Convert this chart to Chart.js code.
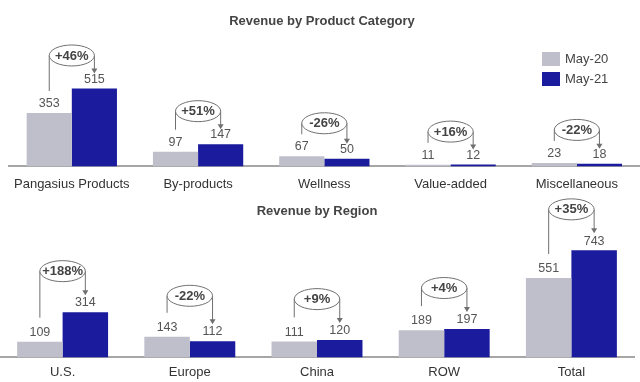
<!DOCTYPE html>
<html><head><meta charset="utf-8">
<script src="https://cdn.jsdelivr.net/npm/chart.js@4"></script>
<style>
html,body{margin:0;padding:0;background:#fff;width:640px;height:382px;overflow:hidden;position:relative;}
#c1{position:absolute;left:4px;top:0;}
#c2{position:absolute;left:-1px;top:190px;}
</style></head><body>
<canvas id="c1" width="636" height="203"></canvas>
<canvas id="c2" width="636" height="200"></canvas>
<script>
const seriesNames = ['May-20', 'May-21'];
const productCategories = ['Pangasius Products', 'By-products', 'Wellness', 'Value-added', 'Miscellaneous'];
const productMay20 = [353, 97, 67, 11, 23];
const productMay21 = [515, 147, 50, 12, 18];
const productChange = ['+46%', '+51%', '-26%', '+16%', '-22%'];
const regionCategories = ['U.S.', 'Europe', 'China', 'ROW', 'Total'];
const regionMay20 = [109, 143, 111, 189, 551];
const regionMay21 = [314, 112, 120, 197, 743];
const regionChange = ['+188%', '-22%', '+9%', '+4%', '+35%'];

const FONT = "'Liberation Sans', Arial, sans-serif";
const GREY = '#BFBFCC';
const BLUE = '#1B1B9E';

function annotPlugin(changes, lift, leftGap, rightGap) {
  return {
    id: 'annot',
    afterDatasetsDraw(chart) {
      const ctx = chart.ctx;
      const m0 = chart.getDatasetMeta(0), m1 = chart.getDatasetMeta(1);
      ctx.save();
      m0.data.forEach((g, i) => {
        const b = m1.data[i];
        ctx.font = '12.5px ' + FONT;
        ctx.fillStyle = '#555';
        ctx.textAlign = 'center';
        ctx.textBaseline = 'bottom';
        ctx.fillText(String(chart.data.datasets[0].data[i]), g.x, g.y - 3);
        ctx.fillText(String(chart.data.datasets[1].data[i]), b.x, b.y - 3);
        const top = Math.min(g.y, b.y);
        const ey = top - lift;
        const cx = (g.x + b.x) / 2, rx = (b.x - g.x) / 2, ry = 10.5;
        ctx.strokeStyle = '#707070';
        ctx.lineWidth = 1;
        ctx.beginPath(); ctx.moveTo(g.x, ey); ctx.lineTo(g.x, g.y - leftGap); ctx.stroke();
        const tip = b.y - rightGap;
        ctx.beginPath(); ctx.moveTo(b.x, ey); ctx.lineTo(b.x, tip - 4); ctx.stroke();
        ctx.fillStyle = '#707070';
        ctx.beginPath(); ctx.moveTo(b.x - 3, tip - 5); ctx.lineTo(b.x + 3, tip - 5); ctx.lineTo(b.x, tip); ctx.closePath(); ctx.fill();
        ctx.beginPath(); ctx.ellipse(cx, ey, rx, ry, 0, 0, Math.PI * 2);
        ctx.fillStyle = '#fff'; ctx.fill(); ctx.stroke();
        ctx.font = 'bold 13px ' + FONT;
        ctx.fillStyle = '#444';
        ctx.textBaseline = 'middle';
        ctx.fillText(changes[i], cx, ey + 0.5);
      });
      ctx.restore();
    }
  };
}

const legendPlugin = {
  id: 'boxLegend',
  afterDraw(chart) {
    const ctx = chart.ctx, ca = chart.chartArea;
    ctx.save();
    chart.data.datasets.forEach((ds, i) => {
      const x = ca.right - 98, y = 52 + i * 20;
      ctx.fillStyle = ds.backgroundColor;
      ctx.fillRect(x, y, 18, 14);
      ctx.fillStyle = '#444';
      ctx.font = '13px ' + FONT;
      ctx.textAlign = 'left';
      ctx.textBaseline = 'middle';
      ctx.fillText(ds.label, x + 23, y + 7.5);
    });
    ctx.restore();
  }
};

function makeChart(id, title, cats, a, b, changes, yMax, tickPad, padBottom, plugins) {
  return new Chart(document.getElementById(id), {
    type: 'bar',
    data: {
      labels: cats,
      datasets: [
        { label: seriesNames[0], data: a, backgroundColor: GREY, borderWidth: 0, categoryPercentage: 0.715, barPercentage: 1 },
        { label: seriesNames[1], data: b, backgroundColor: BLUE, borderWidth: 0, categoryPercentage: 0.715, barPercentage: 1 }
      ]
    },
    options: {
      responsive: false, animation: false, devicePixelRatio: 1,
      layout: { padding: { left: 0, right: 0, top: 0, bottom: padBottom } },
      plugins: {
        legend: { display: false },
        tooltip: { enabled: false },
        title: { display: true, text: title, color: '#444', font: { size: 13, weight: 'bold', family: FONT }, padding: { top: 14, bottom: 10 } }
      },
      scales: {
        x: {
          grid: { display: false, drawTicks: false },
          border: { display: true, color: '#A6A6A6', width: 2 },
          ticks: { color: '#333', font: { size: 13, family: FONT }, padding: tickPad, maxRotation: 0, autoSkip: false }
        },
        y: { display: false, min: 0, max: yMax }
      }
    },
    plugins: plugins
  });
}

makeChart('c1', 'Revenue by Product Category', productCategories, productMay20, productMay21, productChange, 838, 10, 1,
  [annotPlugin(productChange, 33, 22, 15), legendPlugin]);
makeChart('c2', 'Revenue by Region', regionCategories, regionMay20, regionMay21, regionChange, 887, 7.5, 2,
  [annotPlugin(regionChange, 41, 24, 17)]);
</script>
</body></html>
